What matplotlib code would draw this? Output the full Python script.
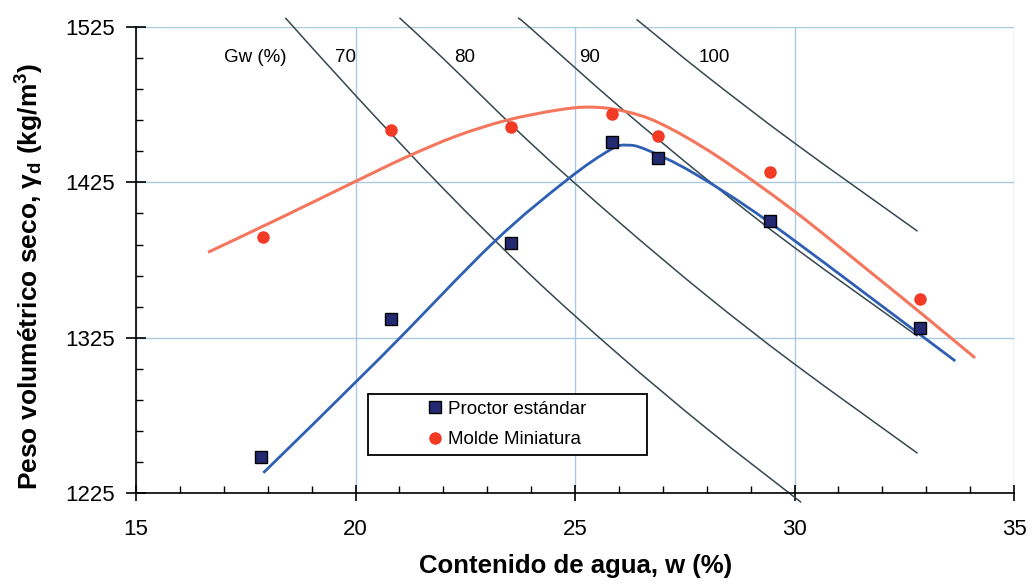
import matplotlib
matplotlib.use("Agg")
import matplotlib.pyplot as plt
from matplotlib.patches import Rectangle, PathPatch
from matplotlib.path import Path
from matplotlib.ticker import MultipleLocator
from matplotlib.lines import Line2D

plt.rcParams['font.family'] = ['Liberation Sans', 'DejaVu Sans']
plt.rcParams['mathtext.default'] = 'regular'

# puntos medidos
w_proctor = [17.85, 20.8, 23.55, 25.85, 26.9, 29.45, 32.85]
gd_proctor = [1248, 1337, 1386, 1451, 1441, 1400, 1331]
w_mini = [17.9, 20.8, 23.55, 25.85, 26.9, 29.45, 32.85]
gd_mini = [1390, 1459, 1461, 1469, 1455, 1432, 1350]

# curvas de ajuste
w_pc = [17.9, 20.56, 23.13, 24.81, 25.8, 26.18, 26.63, 27.7, 29.44, 32.81, 33.66]
gd_pc = [1238, 1312, 1386, 1426.5, 1446, 1449, 1446, 1431, 1399, 1328, 1310]
w_mc = [16.64, 18.28, 19.95, 21.17, 22.31, 23.44, 24.58, 25.34, 26.1, 26.94, 28.23, 29.97, 31.65, 33.0, 34.11]
gd_mc = [1380, 1402, 1425, 1441.5, 1455, 1465, 1471.5, 1473.5, 1471, 1463, 1442, 1407, 1369, 1338, 1312]

# lineas de saturacion Gw
w_s70 = [18.4, 20, 22, 24, 26, 28, 30.15]
gd_s70 = [1531, 1481, 1421, 1365, 1314, 1266.5, 1219]
w_s80 = [21.0, 22, 24, 26, 28, 30, 32.8]
gd_s80 = [1531, 1504.7, 1450, 1399.5, 1352, 1308, 1250.6]
w_s90 = [23.7, 24, 26, 28, 30, 32.8]
gd_s90 = [1531, 1524, 1474, 1427, 1383, 1326]
w_s100 = [26.4, 28, 30, 32.8]
gd_s100 = [1530, 1493.4, 1450.3, 1393.6]
gw_labels = ["70", "80", "90", "100"]
gw_label_w = [19.76, 22.49, 25.34, 28.17]


def smooth_path(xs, ys):
    # curva suave tipo Catmull-Rom que pasa por los puntos
    pts = list(zip(xs, ys))
    n = len(pts)
    verts = [pts[0]]
    codes = [Path.MOVETO]
    for i in range(n - 1):
        p0 = pts[i - 1] if i > 0 else pts[i]
        p1 = pts[i]
        p2 = pts[i + 1]
        p3 = pts[i + 2] if i + 2 < n else pts[i + 1]
        c1 = (p1[0] + (p2[0] - p0[0]) / 6, p1[1] + (p2[1] - p0[1]) / 6)
        c2 = (p2[0] - (p3[0] - p1[0]) / 6, p2[1] - (p3[1] - p1[1]) / 6)
        verts += [c1, c2, p2]
        codes += [Path.CURVE4] * 3
    return Path(verts, codes)


fig = plt.figure(figsize=(10.33, 5.86), dpi=100)
ax = fig.add_axes([0.1317, 0.1587, 0.85, 0.795])

sat_color = "#34484e"
for ws, gs in [(w_s70, gd_s70), (w_s80, gd_s80), (w_s90, gd_s90), (w_s100, gd_s100)]:
    ax.add_patch(PathPatch(smooth_path(ws, gs), fill=False, edgecolor=sat_color, lw=1.1,
                           clip_on=False, zorder=2))

ax.add_patch(PathPatch(smooth_path(w_mc, gd_mc), fill=False, edgecolor="#f4765c", lw=2.2, zorder=3))
ax.add_patch(PathPatch(smooth_path(w_pc, gd_pc), fill=False, edgecolor="#2f5fb3", lw=2.0, zorder=3))
ax.plot(w_mini, gd_mini, 'o', color="#f23a25", ms=8, mec="#f23a25", zorder=4)
ax.plot(w_proctor, gd_proctor, 's', color="#232a72", mec="black", mew=1.0, ms=9, zorder=4)

ax.text(17.71, 1505.7, "Gw (%)", fontsize=13.5, ha='center', va='center')
for lab, wl in zip(gw_labels, gw_label_w):
    ax.text(wl, 1505.7, lab, fontsize=13.5, ha='center', va='center')

ax.set_xlim(15, 35)
ax.set_ylim(1225, 1525)
ax.xaxis.set_major_locator(MultipleLocator(5))
ax.xaxis.set_minor_locator(MultipleLocator(1))
ax.yaxis.set_major_locator(MultipleLocator(100, offset=25))
ax.yaxis.set_minor_locator(MultipleLocator(20, offset=5))
ax.tick_params(axis='both', which='major', direction='inout', width=1.2, labelsize=16)
ax.tick_params(axis='x', which='major', length=12, pad=13)
ax.tick_params(axis='y', which='major', length=15, pad=8)
ax.tick_params(axis='both', which='minor', direction='in', length=5, width=1.0)
ax.grid(True, which='major', color="#a9c9e0", lw=1.0)
ax.set_axisbelow(True)
for s in ['top', 'right']:
    ax.spines[s].set_visible(False)
for s in ['left', 'bottom']:
    ax.spines[s].set_linewidth(1.2)

ax.set_xlabel("Contenido de agua, w (%)", fontsize=18.5, fontweight='bold', labelpad=10)
ax.set_ylabel("Peso volumétrico seco, γ$_{d}$ (kg/m$^{3}$)", fontsize=19, fontweight='bold')
ax.yaxis.set_label_coords(-0.102, 0.466)

box = Rectangle((0.2642, 0.0815), 0.318, 0.131, transform=ax.transAxes,
                facecolor='white', edgecolor='black', lw=1.3, zorder=5)
ax.add_patch(box)
handles = [Line2D([], [], ls='none', marker='s', color="#232a72", mec='black', ms=9),
           Line2D([], [], ls='none', marker='o', color="#f23a25", ms=8)]
leg = ax.legend(handles, ["Proctor estándar", "Molde Miniatura"], loc='center left',
                bbox_to_anchor=(0.313, 0.147), frameon=False, fontsize=13.5,
                handlelength=0.8, handletextpad=0.3, labelspacing=0.7)
leg.set_zorder(6)

fig.savefig("out.png", dpi=100, facecolor='white')
